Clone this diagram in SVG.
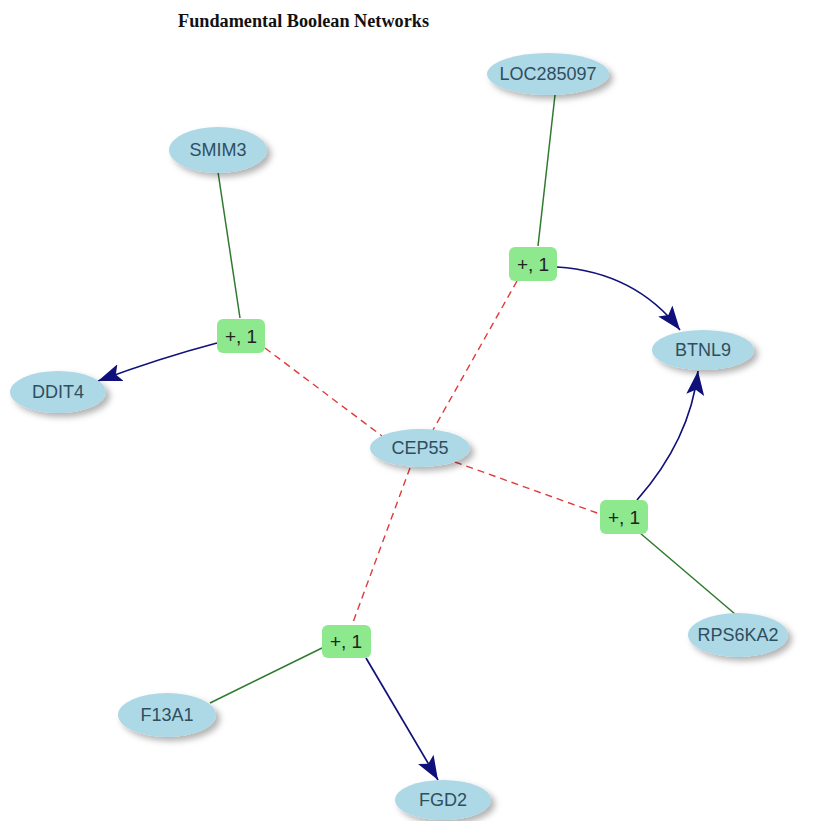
<svg xmlns="http://www.w3.org/2000/svg" width="813" height="821" viewBox="0 0 813 821">
  <style>
    .title { font-family: "Liberation Serif", "DejaVu Serif", serif; font-weight: bold; font-size: 18.5px; fill: #111; }
    .gene ellipse { fill: #add8e6; filter: url(#shadow); }
    .gene text { font-family: "Liberation Sans", Arial, sans-serif; font-size: 18px; fill: #2f4f5f; text-anchor: middle; }
    .rule rect { fill: #8ee88e; }
    .rule text { font-family: "Liberation Sans", Arial, sans-serif; font-size: 19px; fill: #222; text-anchor: middle; }
    .input { stroke: #2f7a2f; stroke-width: 1.5; fill: none; }
    .output { stroke: #10107a; stroke-width: 1.7; fill: none; marker-end: url(#arrow); }
    .link { stroke: #e03a3a; stroke-width: 1.4; stroke-dasharray: 7 5; fill: none; }
  </style>
  <defs>
    <filter id="shadow" x="-30%" y="-40%" width="170%" height="190%">
      <feDropShadow dx="4" dy="4" stdDeviation="3" flood-color="#000" flood-opacity="0.3"/>
    </filter>
    <marker id="arrow" markerUnits="userSpaceOnUse" markerWidth="28" markerHeight="22" refX="24" refY="9" orient="auto">
      <path d="M0,0 L24,9 L0,18 L5,9 Z" fill="#10107a"/>
    </marker>
  </defs>

  <rect width="813" height="821" fill="#fff"/>
  <text class="title" x="178" y="27" textLength="251" lengthAdjust="spacingAndGlyphs">Fundamental Boolean Networks</text>

  <g id="connectors">
    <!-- gene inputs into rules -->
    <path class="input" d="M218,172 L240,318"/>
    <path class="input" d="M555,95 L538,246"/>
    <path class="input" d="M735,614 L640,533"/>
    <path class="input" d="M210,703 L322,648"/>
    <!-- rule outputs -->
    <path class="output" d="M217,343 Q160,358 98,381"/>
    <path class="output" d="M557,267 Q635,272 680,330"/>
    <path class="output" d="M637,500 Q690,440 698,371"/>
    <path class="output" d="M366,658 L438,780"/>
    <!-- links from CEP55 to rules -->
    <path class="link" d="M265,348 L382,436"/>
    <path class="link" d="M517,281 L433,430"/>
    <path class="link" d="M455,462 L600,514"/>
    <path class="link" d="M410,468 L352,625"/>
  </g>

  <g id="LOC285097" class="gene"><ellipse cx="548" cy="74" rx="61" ry="21"/><text x="548" y="80">LOC285097</text></g>
  <g id="SMIM3" class="gene"><ellipse cx="218" cy="150" rx="49" ry="23"/><text x="218" y="156">SMIM3</text></g>
  <g id="DDIT4" class="gene"><ellipse cx="58" cy="392" rx="48" ry="21"/><text x="58" y="398">DDIT4</text></g>
  <g id="CEP55" class="gene"><ellipse cx="420" cy="448" rx="50" ry="19"/><text x="420" y="454">CEP55</text></g>
  <g id="BTNL9" class="gene"><ellipse cx="703" cy="350" rx="51" ry="20"/><text x="703" y="356">BTNL9</text></g>
  <g id="RPS6KA2" class="gene"><ellipse cx="738" cy="635" rx="50" ry="22"/><text x="738" y="641">RPS6KA2</text></g>
  <g id="F13A1" class="gene"><ellipse cx="167" cy="715" rx="49" ry="22"/><text x="167" y="721">F13A1</text></g>
  <g id="FGD2" class="gene"><ellipse cx="443" cy="800" rx="48" ry="20"/><text x="443" y="806">FGD2</text></g>

  <g id="rule1" class="rule"><rect x="217" y="319" width="48" height="34" rx="6"/><text x="241" y="343">+, 1</text></g>
  <g id="rule2" class="rule"><rect x="509" y="247" width="48" height="34" rx="6"/><text x="533" y="271">+, 1</text></g>
  <g id="rule3" class="rule"><rect x="600" y="500" width="48" height="34" rx="6"/><text x="624" y="524">+, 1</text></g>
  <g id="rule4" class="rule"><rect x="322" y="625" width="49" height="33" rx="6"/><text x="346" y="648">+, 1</text></g>
</svg>
